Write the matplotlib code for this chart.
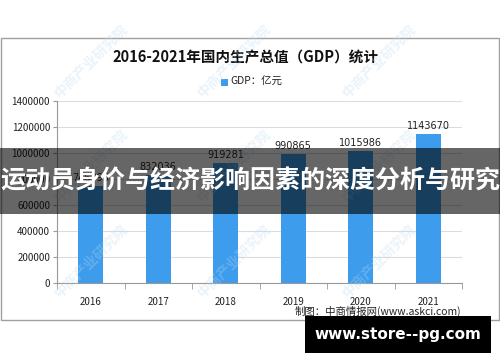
import matplotlib
matplotlib.use("Agg")
import matplotlib.pyplot as plt
from matplotlib.patches import Rectangle

plt.rcParams['font.family'] = ['Noto Sans CJK SC', 'DejaVu Sans']

years = ['2016', '2017', '2018', '2019', '2020', '2021']
gdp = [746395, 832036, 919281, 990865, 1015986, 1143670]
yticks = [0, 200000, 400000, 600000, 800000, 1000000, 1200000, 1400000]

W, H = 500, 362
fig = plt.figure(figsize=(W / 100, H / 100), dpi=100)

def fx(x):
    return x / W

def fy(y):
    return 1 - y / H

# chart frame
fig.patches.append(Rectangle((fx(0.5), fy(320)), fx(498.5), (320 - 38) / H,
                             transform=fig.transFigure, fill=False,
                             edgecolor='#a0a0a0', linewidth=1, zorder=0))

ax = fig.add_axes([fx(57), fy(283), fx(462 - 57), (283 - 101) / H])
x = list(range(len(years)))
bar_color = '#3d9cec'
ax.bar(x, gdp, width=0.37, color=bar_color, zorder=3)
for xi, v in zip(x, gdp):
    ax.text(xi, v + 25000, str(v), ha='center', va='bottom', fontsize=7,
            color='#222222', family=['DejaVu Sans'], zorder=4)

ax.set_xlim(-0.5, len(years) - 0.5)
ax.set_ylim(0, 1400000)
ax.set_yticks(yticks)
ax.set_yticklabels([str(t) for t in yticks], fontsize=7, color='#222222')
ax.set_xticks(x)
ax.set_xticklabels(years, fontsize=7, color='#222222')
ax.set_xticks([i - 0.5 for i in range(len(years) + 1)], minor=True)
ax.tick_params(axis='x', which='major', length=0, pad=10)
ax.tick_params(axis='x', which='minor', length=4, color='#999999')
ax.tick_params(axis='y', length=3, color='#999999', pad=2)
ax.grid(axis='y', color='#dcdcdc', linewidth=0.8, zorder=0)
for s in ['top', 'right']:
    ax.spines[s].set_visible(False)
for s in ['left', 'bottom']:
    ax.spines[s].set_color('#999999')

# title & legend
fig.text(fx(245), fy(57), '2016-2021年国内生产总值（GDP）统计', ha='center', va='center',
         fontsize=10.5, fontweight='bold', color='#111111')
fig.patches.append(Rectangle((fx(221), fy(86)), fx(7), 7 / H, transform=fig.transFigure,
                             facecolor=bar_color, edgecolor='none'))
fig.text(fx(230), fy(82), 'GDP：亿元', ha='left', va='center', fontsize=7.5, color='#222222')

# source
fig.text(fx(461), fy(311), '制图：中商情报网(www.askci.com)', ha='right', va='center',
         fontsize=7.5, color='#222222')

# watermarks
for (wx, wy) in [(62, 100), (205, 100), (350, 100),
                 (62, 205), (205, 205), (350, 205),
                 (62, 300), (205, 300), (350, 300)]:
    fig.text(fx(wx), fy(wy), '中商产业研究院', ha='left', va='bottom', rotation=45,
             fontsize=10, fontweight='bold', color='#b9d9f0', alpha=0.3,
             rotation_mode='anchor', zorder=5)

# overlay band
fig.patches.append(Rectangle((0, fy(214)), 1, 66 / H, transform=fig.transFigure,
                             facecolor='black', alpha=0.6, edgecolor='none', zorder=10))
fig.text(0.5, fy(181), '运动员身价与经济影响因素的深度分析与研究', ha='center', va='center',
         fontsize=18, fontweight='bold', color='white', zorder=11)

# bottom black box
fig.patches.append(Rectangle((fx(305), fy(353)), fx(491 - 305), 37 / H,
                             transform=fig.transFigure, facecolor='black',
                             edgecolor='none', zorder=10))
fig.text(fx(398), fy(334), 'www.store--pg.com', ha='center', va='center',
         fontsize=11, fontweight='bold', color='white', zorder=11,
         family=['DejaVu Sans'])

fig.savefig('out.png', dpi=100)
